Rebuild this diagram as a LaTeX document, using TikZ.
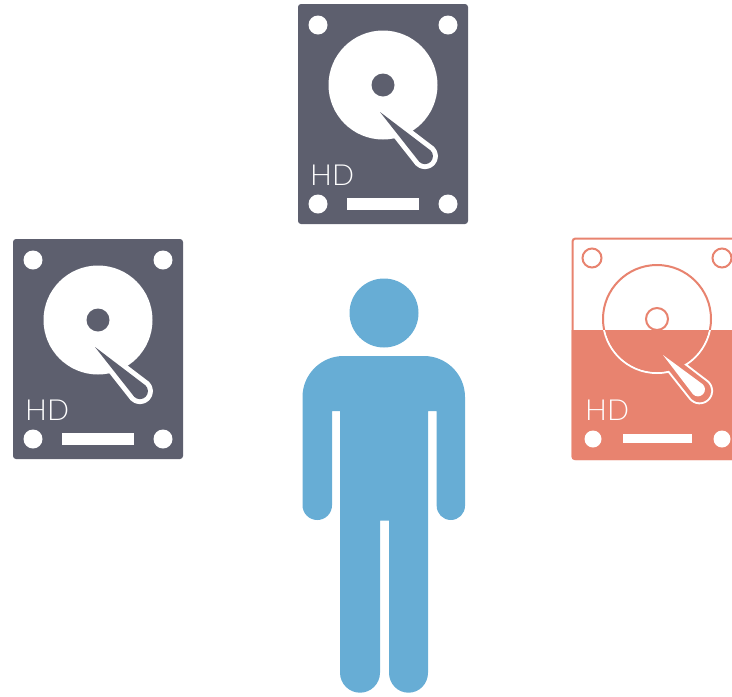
\documentclass[tikz,border=0pt]{standalone}
\usepackage{fontspec}
\newfontfamily\hdfont{Lato Light}
\definecolor{hdgrey}{HTML}{5D5F6E}
\definecolor{hdred}{HTML}{E8836F}
\definecolor{personblue}{HTML}{67ADD5}
\newcommand{\armpath}[5]{% tip x,y ; length ; style ; angle
  \begin{scope}[shift={(#1,#2)},rotate=#5]
  \path[#4] (0,0) -- (#3-1,-8) .. controls (#3+3.4,-8) and (#3+7,-4.4) .. (#3+7,0)
     .. controls (#3+7,4.4) and (#3+3.4,8) .. (#3-1,8) -- cycle;
  \end{scope}}
\newcommand{\armsmall}[5]{%
  \begin{scope}[shift={(#1,#2)},rotate=#5]
  \path[#4] (0,0) -- (#3-1,-7) .. controls (#3+2.9,-7) and (#3+6,-3.9) .. (#3+6,0)
     .. controls (#3+6,3.9) and (#3+2.9,7) .. (#3-1,7) -- cycle;
  \end{scope}}
\newcommand{\hdDark}[3]{%
 \begin{scope}[shift={(#1,#2)}]
  \fill[hdgrey,rounded corners=3pt] (0,0) rectangle (170,220);
  \foreach \hx/\hy in {20/21,150/21,20/200,150/200} \fill[white] (\hx,\hy) circle[radius=9.5pt];
  \fill[white] (85,81) circle[radius=54.5pt];
  \fill[hdgrey] (85,81) circle[radius=11.5pt];
  \armpath{82}{108}{64}{draw=white,line width=10pt,line join=round}{-44.5}
  \armpath{82}{108}{64}{fill=hdgrey}{-44.5}
  \fill[white] (49,194) rectangle (121,206);
  \node[anchor=base west,inner sep=0pt,text=white,font=\hdfont\fontsize{29}{30}\selectfont] (#3) at (12,181) {HD};
 \end{scope}}
\begin{document}
\begin{tikzpicture}[x=1pt,y=-1pt]
\useasboundingbox (0,0) rectangle (732,697);
\clip (0,0) rectangle (732,697);
\hdDark{298}{4}{hdtop}
\hdDark{13}{239}{hdleft}
% person
\fill[personblue] (384,313) circle[radius=34.5pt];
\fill[personblue] (340,411) -- (332,411) -- (332,505.3) .. controls (332,513.4) and (325.4,520) .. (317.3,520) .. controls (309.1,520) and (302.5,513.4) .. (302.5,505.3) -- (302.5,397) .. controls (302.5,374.4) and (320.9,356) .. (343.5,356) -- (424,356) .. controls (446.6,356) and (465,374.4) .. (465,397) -- (465,505.85) .. controls (465,513.7) and (458.6,520) .. (450.85,520) .. controls (443,520) and (436.7,513.7) .. (436.7,505.85) -- (436.7,411) -- (428,411) -- (428,672.7) .. controls (428,683.7) and (419.5,692.7) .. (408.5,692.7) .. controls (397.5,692.7) and (389,683.7) .. (389,672.7) -- (389,520.7) -- (380,520.7) -- (380,672.7) .. controls (380,683.7) and (371,692.7) .. (360,692.7) .. controls (349,692.7) and (340,683.7) .. (340,672.7) -- cycle;
% half-filled disk
\begin{scope}[shift={(572,238)}]
  \draw[hdred,line width=2pt,rounded corners=3pt,fill=white] (0.5,0.5) rectangle (170,221);
  \foreach \hx in {20,150} \draw[hdred,line width=2pt,fill=white] (\hx,20) circle[radius=9.5pt];
  \draw[hdred,line width=2pt,fill=white] (85,81) circle[radius=54pt];
  \begin{scope}
    \clip (-1,92) rectangle (172,223);
    \fill[hdred,rounded corners=3pt] (-0.5,0) rectangle (171,222);
    \draw[white,line width=2pt] (85,81) circle[radius=54pt];
    \armpath{82}{108}{65}{draw=white,line width=11pt,line join=round}{-44.5}
    \armpath{82}{108}{65}{draw=hdred,line width=7pt,line join=round,fill=hdred}{-44.5}
    \fill[hdred] (85,81) circle[radius=53pt];
  \end{scope}
  \draw[hdred,line width=2pt,fill=white] (85,81) circle[radius=11pt];
  \armsmall{91}{117}{50}{fill=white}{-44.5}
  \foreach \hx in {21,150} \fill[white] (\hx,201) circle[radius=8.5pt];
  \fill[white] (51,196) rectangle (120,205);
  \node[anchor=base west,inner sep=0pt,text=white,font=\hdfont\fontsize{29}{30}\selectfont] (hdright) at (13,182) {HD};
\end{scope}
\end{tikzpicture}
\end{document}
